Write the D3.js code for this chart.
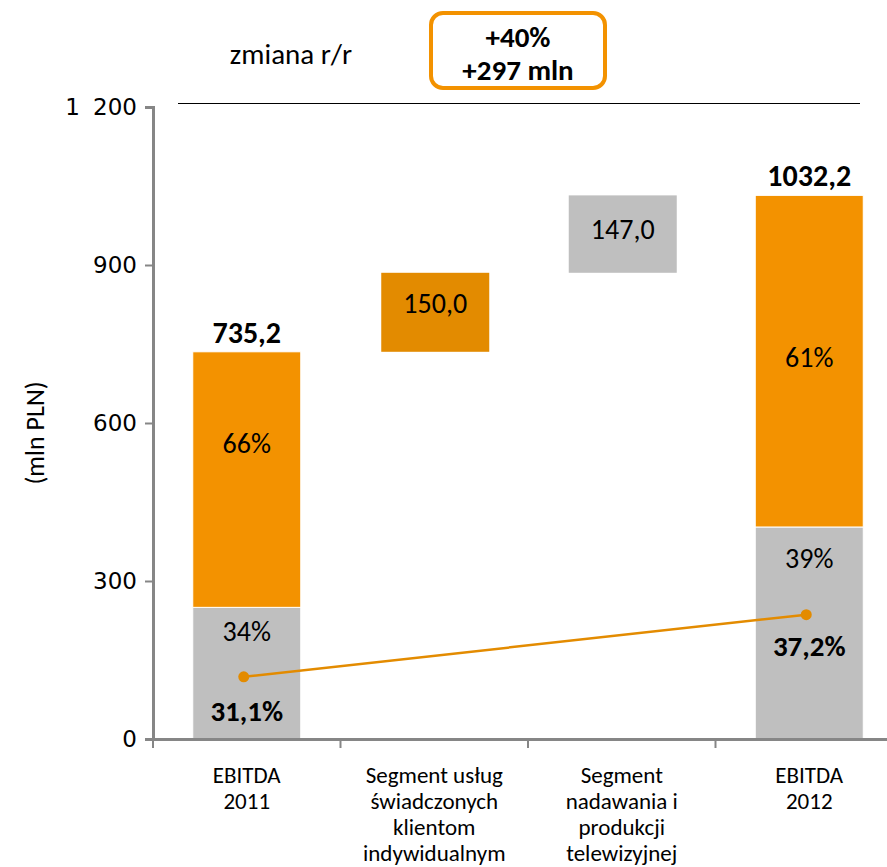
<!DOCTYPE html>
<html>
<head>
<meta charset="utf-8">
<script src="https://cdn.jsdelivr.net/npm/d3@7"></script>
<style>
  body { margin: 0; background: #fff; }
  svg { display: block; font-family: Carlito, Lato, "Open Sans", sans-serif; }
</style>
</head>
<body>
<svg width="887" height="867"></svg>
<script>
// categories and values (mln PLN)
const categories = ["EBITDA 2011", "Segment usług", "Segment nadawania", "EBITDA 2012"];
const categoryLines = [
    ["EBITDA", "2011"],
    ["Segment usług", "świadczonych", "klientom", "indywidualnym"],
    ["Segment", "nadawania i", "produkcji", "telewizyjnej"],
    ["EBITDA", "2012"],
];
const totals = [735.2, null, null, 1032.2];
const totalLabels = ["735,2", null, null, "1032,2"];
const shareGray = [0.34, null, null, 0.39]; // udział dolnej części
const shareLabels = [["34%", "66%"], null, null, ["39%", "61%"]];
const deltas = [null, 150.0, 147.0, null];
const deltaLabels = [null, "150,0", "147,0", null];
const margins = [31.1, null, null, 37.2]; // marża EBITDA %
const marginLabels = ["31,1%", null, null, "37,2%"];
const yTicks = [0, 300, 600, 900, 1200];

const svg = d3.select("svg");
const orange = "#f39200";
const orangeDark = "#e38b00";
const gray = "#bfbfbf";
const axisColor = "#868686";

const x = d3.scaleBand().domain(categories).range([153, 903]).paddingInner(0).paddingOuter(0);
const y = d3.scaleLinear().domain([0, 1200]).range([739, 107]);
const yMargin = d3.scaleLinear().domain([25, 87]).range([739, 107]);
const barW = 108;
const cx = c => x(c) + x.bandwidth() / 2;

// label nudges like in the original (baseline offsets, px)
const upperLabelDy = [-37, null, null, -4];
const lowerLabelDy = [34, null, null, 41];
const deltaLabelDy = [null, 30, 34, null];
const marginLabelDy = [44, null, null, 41];

// header
svg.append("text").attr("x", 291).attr("y", 64).attr("text-anchor", "middle")
    .attr("font-size", 29).text("zmiana r/r");
svg.append("rect").attr("x", 431).attr("y", 13).attr("width", 174).attr("height", 75)
    .attr("rx", 12).attr("fill", "#fff").attr("stroke", orange).attr("stroke-width", 4);
svg.append("text").attr("x", 518).attr("y", 47).attr("text-anchor", "middle")
    .attr("font-size", 29).attr("font-weight", "bold").text("+40%");
svg.append("text").attr("x", 518).attr("y", 80).attr("text-anchor", "middle")
    .attr("font-size", 29).attr("font-weight", "bold").text("+297 mln");
svg.append("line").attr("x1", 178).attr("x2", 860).attr("y1", 103.5).attr("y2", 103.5)
    .attr("stroke", "#000").attr("stroke-width", 1);

// stacked total bars
categories.forEach((c, i) => {
    if (totals[i] == null) return;
    const low = totals[i] * shareGray[i];
    svg.append("rect").attr("x", cx(c) - barW / 2).attr("width", barW)
        .attr("y", y(low)).attr("height", y(0) - y(low)).attr("fill", gray)
        .attr("stroke", "#fff").attr("stroke-width", 1);
    svg.append("rect").attr("x", cx(c) - barW / 2).attr("width", barW)
        .attr("y", y(totals[i])).attr("height", y(low) - y(totals[i])).attr("fill", orange)
        .attr("stroke", "#fff").attr("stroke-width", 1);
    svg.append("text").attr("x", cx(c)).attr("y", y(totals[i]) - 9).attr("text-anchor", "middle")
        .attr("font-size", 30).attr("font-weight", "bold").text(totalLabels[i]);
    svg.append("text").attr("x", cx(c)).attr("y", (y(low) + y(totals[i])) / 2 + 10 + upperLabelDy[i])
        .attr("text-anchor", "middle").attr("font-size", 28).text(shareLabels[i][1]);
    svg.append("text").attr("x", cx(c)).attr("y", y(low) + lowerLabelDy[i])
        .attr("text-anchor", "middle").attr("font-size", 28).text(shareLabels[i][0]);
});

// floating delta bars
let running = totals[0];
categories.forEach((c, i) => {
    if (deltas[i] == null) return;
    const from = running;
    const to = running + deltas[i];
    running = to;
    svg.append("rect").attr("x", cx(c) - barW / 2 + 1).attr("width", barW)
        .attr("y", y(to)).attr("height", y(from) - y(to))
        .attr("fill", i === 1 ? orangeDark : gray);
    svg.append("text").attr("x", cx(c) + 1).attr("y", y(to) + deltaLabelDy[i] + 10)
        .attr("text-anchor", "middle").attr("font-size", 28).text(deltaLabels[i]);
});

// axes
const yAxis = svg.append("g").attr("transform", "translate(153,0)")
    .call(d3.axisLeft(y).tickValues(yTicks).tickSize(8).tickPadding(8)
        .tickFormat(d => d3.format(",")(d).replace(",", " ")));
yAxis.select(".domain").attr("stroke", axisColor).attr("stroke-width", 3);
yAxis.selectAll(".tick line").attr("stroke", axisColor).attr("stroke-width", 2);
yAxis.selectAll(".tick text").attr("font-family", "'DejaVu Sans', Verdana, sans-serif")
    .attr("font-size", 23).attr("fill", "#000").attr("word-spacing", 6);

const xAxis = svg.append("g").attr("transform", "translate(0,739)")
    .call(d3.axisBottom(x).tickSize(0).tickFormat(""));
xAxis.select(".domain").attr("stroke", axisColor).attr("stroke-width", 3);
const bounds = [153, ...categories.map(c => x(c) + x.bandwidth())];
xAxis.selectAll(".sep").data(bounds).join("line").attr("class", "sep")
    .attr("x1", d => d).attr("x2", d => d).attr("y1", 0).attr("y2", 9)
    .attr("stroke", axisColor).attr("stroke-width", 2);

categories.forEach((c, i) => {
    const t = svg.append("text").attr("x", cx(c)).attr("y", 783).attr("text-anchor", "middle")
        .attr("font-size", 23);
    categoryLines[i].forEach((line, j) => {
        t.append("tspan").attr("x", cx(c)).attr("dy", j === 0 ? 0 : 26).text(line);
    });
});

svg.append("text").attr("transform", "translate(44,433) rotate(-90)").attr("text-anchor", "middle")
    .attr("font-size", 26).text("(mln PLN)");

// EBITDA margin line
const pts = categories.map((c, i) => ({ c, i, v: margins[i], label: marginLabels[i] })).filter(d => d.v != null);
svg.append("path").datum(pts)
    .attr("d", d3.line().x(d => cx(d.c) - 3).y(d => yMargin(d.v)))
    .attr("fill", "none").attr("stroke", orangeDark).attr("stroke-width", 2.5);
svg.selectAll(".dot").data(pts).join("circle").attr("class", "dot")
    .attr("cx", d => cx(d.c) - 3).attr("cy", d => yMargin(d.v)).attr("r", 5.5).attr("fill", orangeDark);
svg.selectAll(".mlabel").data(pts).join("text").attr("class", "mlabel")
    .attr("x", d => cx(d.c)).attr("y", d => yMargin(d.v) + marginLabelDy[d.i]).attr("text-anchor", "middle")
    .attr("font-size", 29).attr("font-weight", "bold").text(d => d.label);
</script>
</body>
</html>
